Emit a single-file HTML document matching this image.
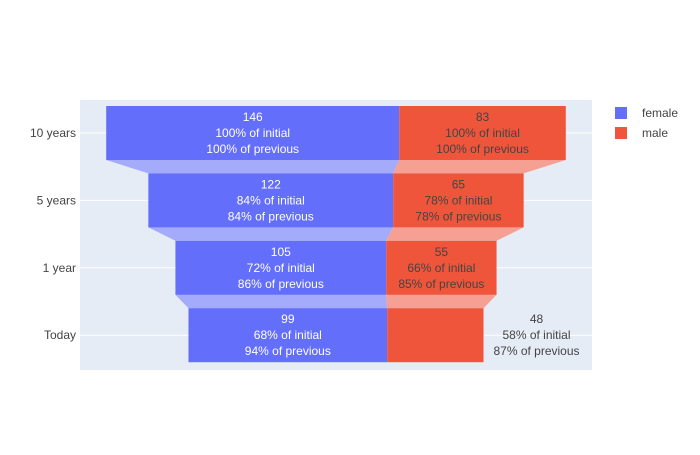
<!DOCTYPE html>
<html><head><meta charset="utf-8"><style>
body{margin:0;background:#fff;font-family:"Liberation Sans",Arial,sans-serif;}
svg text{font-family:"Liberation Sans",Arial,sans-serif;font-size:12px;}
</style></head><body>
<svg id="chart" width="700" height="450">
<rect x="0" y="0" width="700" height="450" fill="#fff"/>
<rect x="80" y="100" width="512" height="270" fill="#e5ecf6"/>
<g id="grid"></g><g id="connectors"></g><g id="bars"></g><g id="labels"></g><g id="yaxis"></g>
<g>
<g><rect x="615" y="107" width="12" height="12" fill="#636efa"/><text x="642" y="117" fill="#444">female</text></g>
<g><rect x="615" y="127" width="12" height="12" fill="#ef553b"/><text x="642" y="137" fill="#444">male</text></g>
</g>
</svg>
<script>
const categories=["10 years","5 years","1 year","Today"];
const female=[146,122,105,99];
const male=[83,65,55,48];
const NS="http://www.w3.org/2000/svg";
const cx=336, scale=2.007, y0=133, step=67.4, bh=54;
function yc(i){return y0+i*step;}
function xs(v){return v*scale;}
function mk(tag,attrs,parent){const e=document.createElementNS(NS,tag);for(const k in attrs)e.setAttribute(k,attrs[k]);document.getElementById(parent).appendChild(e);return e;}
function pct(a,b){return Math.round(a/b*100)+"%";}
const bounds=[];
categories.forEach((c,i)=>{
  const tot=female[i]+male[i];
  const left=cx-xs(tot)/2, mid=left+xs(female[i]), right=mid+xs(male[i]);
  bounds.push([left,mid,right]);
  const g=mk("line",{x1:80,x2:592,y1:yc(i),y2:yc(i),stroke:"#fff","stroke-width":1},"grid");
  
  
  const t=mk("text",{x:76,y:yc(i)+4,"text-anchor":"end",fill:"#444"},"yaxis");t.textContent=c;
  
  
});
categories.forEach((c,i)=>{
  const [l,m,r]=bounds[i];
  if(i<categories.length-1){
    const [l2,m2,r2]=bounds[i+1];
    const yb=yc(i)+bh/2, yt=yc(i+1)-bh/2;
    const cf=mk("polygon",{points:`${l},${yb} ${m},${yb} ${m2},${yt} ${l2},${yt}`,fill:"#a5abfb"},"connectors");
    
    
    const cm=mk("polygon",{points:`${m},${yb} ${r},${yb} ${r2},${yt} ${m2},${yt}`,fill:"#f5a092"},"connectors");
    
    
  }
  const bf=mk("rect",{x:l,y:yc(i)-bh/2,width:m-l,height:bh,fill:"#636efa"},"bars");
  
  
  const bm=mk("rect",{x:m,y:yc(i)-bh/2,width:r-m,height:bh,fill:"#ef553b"},"bars");
  
  
  const series=[[female,l,m,"#fff"],[male,m,r,"#444"]];
  series.forEach(([arr,a,b,col],s)=>{
    const lines=[String(arr[i]),pct(arr[i],arr[0])+" of initial",pct(arr[i],arr[Math.max(i-1,0)])+" of previous"];
    let x=(a+b)/2, color=col;
    if(b-a<100){x=b+53;color="#444";}
    lines.forEach((txt,k)=>{
      const t=mk("text",{x:x,y:yc(i)-12+k*16,"text-anchor":"middle",fill:color},"labels");
      t.textContent=txt;
      
      
    });
  });
});
</script>
</body></html>
